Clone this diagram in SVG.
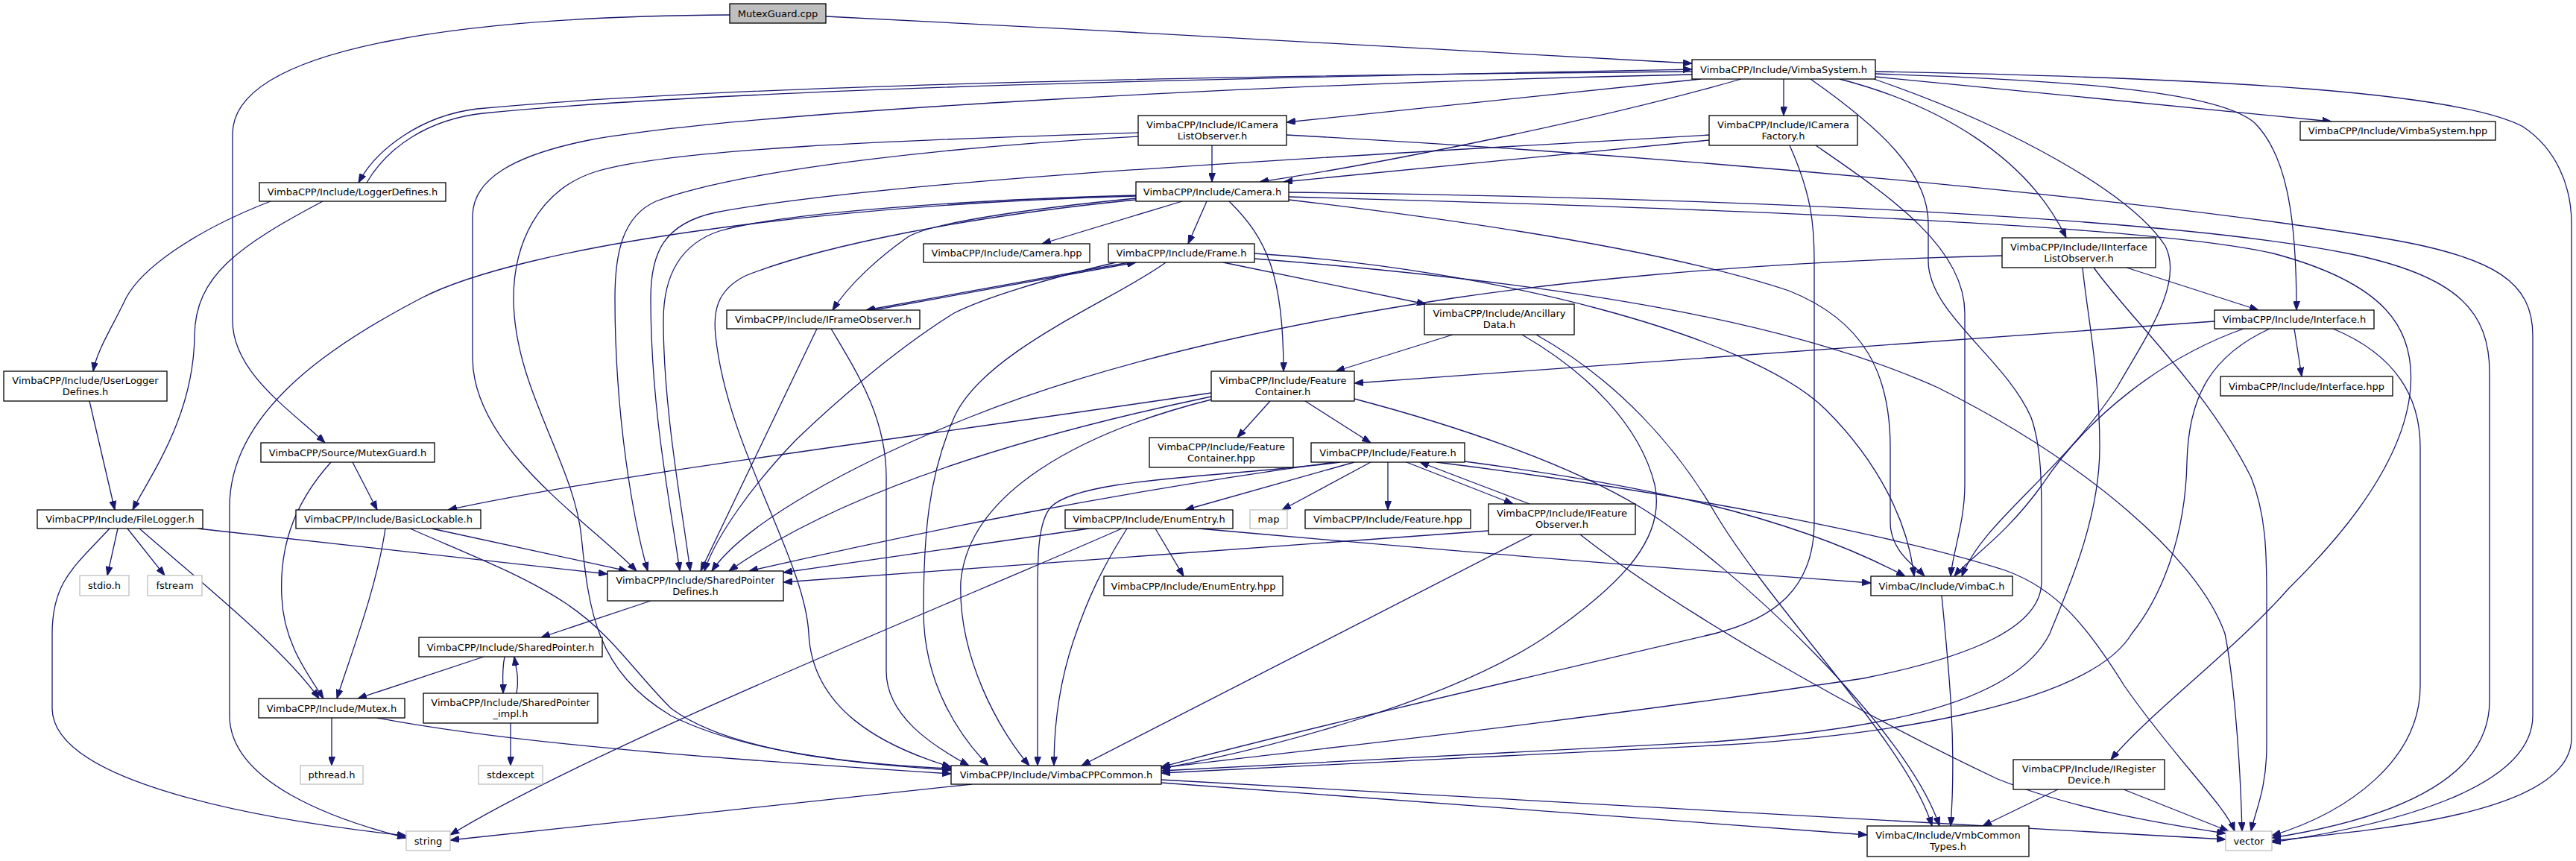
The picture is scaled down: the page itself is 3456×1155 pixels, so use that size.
<svg xmlns="http://www.w3.org/2000/svg" width="3456" height="1155" viewBox="0 0 3456 1155">
<defs>
<marker id="a" viewBox="0 0 12 9" refX="12" refY="4.5" markerWidth="12" markerHeight="9" orient="auto" markerUnits="userSpaceOnUse"><path d="M0,0 L12,4.5 L0,9 Z" fill="#191970" stroke="#191970" stroke-width="1"/></marker>
</defs>
<style>
.n rect{fill:#ffffff;stroke:#000000;stroke-width:1.3}
.g rect{fill:#ffffff;stroke:#bfbfbf;stroke-width:1.3}
.r rect{fill:#bfbfbf;stroke:#000000;stroke-width:1.3}
text{font-family:"DejaVu Sans","Liberation Sans",sans-serif;font-size:13px;text-anchor:middle;fill:#000000}
#edges path{fill:none;stroke:#191970;stroke-width:1.3;marker-end:url(#a)}
</style>
<rect x="0" y="0" width="3456" height="1155" fill="#ffffff"/>
<g id="edges">
<path d="M1108,22 C1500,40 1950,70 2270,85"/>
<path d="M979,20 C640,22 312,60 312,180 L312,430 C312,500 390,550 436,594"/>
<path d="M2270,96 C1700,101 1000,112 640,146 C565,155 505,200 481,245"/>
<path d="M492,245 C520,197 575,160 648,152 C1000,117 1700,104 2270,93"/>
<path d="M2282,106 L1726,164"/>
<path d="M2336,106 C2150,160 1850,220 1690,244"/>
<path d="M2393,106 L2393,155"/>
<path d="M2516,103 L3128,163"/>
<path d="M2468,106 C2600,140 2720,210 2772,319"/>
<path d="M2516,99 C2800,108 2980,125 3025,165 C3070,210 3081,300 3081,416"/>
<path d="M2516,96 C3000,105 3300,125 3385,170 C3430,200 3450,250 3450,300 L3450,990 C3450,1090 3200,1112 3048,1128"/>
<path d="M2270,100 C1700,112 1000,150 790,188 C690,208 634,240 634,290 L634,480 C634,600 790,700 854,766"/>
<path d="M2429,106 C2520,170 2587,230 2587,300 L2587,350 C2587,420 2690,480 2725,560 C2739,600 2739,650 2739,700 L2739,780 C2739,840 2650,880 2500,910 C2100,970 1700,1012 1558,1030"/>
<path d="M2514,106 C2700,170 2860,260 2905,330 C2930,380 2880,450 2840,520 C2760,640 2660,700 2632,773"/>
<path d="M2293,188 L1722,244"/>
<path d="M2293,181 C1800,210 1200,240 960,285 C890,300 873,340 873,400 C873,550 900,680 912,766"/>
<path d="M2401,195 C2430,260 2434,300 2434,350 L2434,700 C2434,790 2380,830 2300,850 C2000,920 1700,990 1558,1029"/>
<path d="M2436,195 C2530,260 2636,330 2636,420 L2636,650 C2636,700 2620,740 2617,773"/>
<path d="M1626,195 L1626,244"/>
<path d="M1726,181 C2300,212 2900,270 3200,320 C3350,345 3398,380 3398,450 L3398,960 C3398,1060 3200,1108 3048,1130"/>
<path d="M1527,183 C1300,195 1000,225 880,270 C835,290 825,340 825,400 C825,560 850,700 869,766"/>
<path d="M1527,178 C1200,188 900,200 800,230 C720,255 689,330 689,400 C689,520 770,620 780,720 C790,820 800,900 900,960 C1000,1010 1150,1025 1276,1033"/>
<path d="M1586,270 L1398,327"/>
<path d="M1619,270 L1594,327"/>
<path d="M1649,270 C1700,320 1722,370 1722,498"/>
<path d="M1524,266 C1380,280 1240,300 1215,320 C1180,345 1140,380 1117,416"/>
<path d="M1524,263 C1100,275 700,330 565,400 C450,460 308,550 308,680 L308,960 C308,1050 450,1100 545,1124"/>
<path d="M1524,262 C1300,268 1050,285 965,310 C905,330 890,380 890,430 C890,550 915,680 926,766"/>
<path d="M1524,268 C1300,290 1100,330 1000,370 C960,390 957,420 960,450 C975,600 1080,750 1085,850 C1090,950 1180,1000 1276,1029"/>
<path d="M1729,258 C2300,265 2900,290 3150,340 C3300,370 3340,420 3340,500 L3340,940 C3340,1050 3200,1100 3048,1124"/>
<path d="M1729,264 C2400,282 2900,305 3050,340 C3200,380 3240,440 3234,520 C3225,640 3100,760 3070,790 C3000,870 2880,960 2832,1019"/>
<path d="M1729,268 C2000,300 2250,340 2400,390 C2500,430 2536,500 2536,600 L2536,700 C2536,740 2570,760 2582,773"/>
<path d="M1515,352 L1162,416"/>
<path d="M1172,416 L1524,352"/>
<path d="M1641,352 L1913,408"/>
<path d="M1497,352 C1400,375 1320,400 1280,420 C1200,470 1120,540 1068,590 C1010,650 960,720 945,766"/>
<path d="M1564,352 C1500,400 1320,470 1280,560 C1245,640 1239,720 1239,820 C1239,920 1290,990 1326,1027"/>
<path d="M1683,340 C2000,360 2350,450 2450,550 C2520,620 2560,700 2568,773"/>
<path d="M1683,347 C2100,380 2400,430 2600,520 C2800,620 2950,750 2985,850 C2995,900 3005,1000 3008,1115"/>
<path d="M1096,441 L940,766"/>
<path d="M1115,441 C1150,500 1189,560 1189,640 L1189,900 C1189,960 1250,1000 1300,1027"/>
<path d="M1949,449 L1792,498"/>
<path d="M2042,449 C2130,500 2200,570 2220,650 C2235,720 2180,780 2080,850 C1950,940 1700,1005 1558,1031"/>
<path d="M2061,449 C2170,510 2250,600 2302,690 C2380,820 2560,1000 2592,1108"/>
<path d="M1625,527 C1200,590 800,640 601,684"/>
<path d="M1625,532 C1300,600 1100,680 978,766"/>
<path d="M1625,536 C1450,580 1300,660 1289,780 C1285,880 1340,980 1381,1027"/>
<path d="M1817,535 C1950,570 2100,620 2200,680 C2330,760 2560,980 2602,1108"/>
<path d="M1704,538 L1660,587"/>
<path d="M1751,538 L1839,594"/>
<path d="M1862,620 L1862,684"/>
<path d="M1839,620 L1720,684"/>
<path d="M1817,620 L1590,684"/>
<path d="M1887,620 L2030,676"/>
<path d="M2052,676 L1905,620"/>
<path d="M1790,620 C1500,660 1250,710 1005,766"/>
<path d="M1798,620 C1650,640 1450,640 1410,680 C1392,700 1392,750 1392,800 L1392,1027"/>
<path d="M1965,619 C2200,650 2400,690 2556,773"/>
<path d="M1927,620 C2250,660 2550,720 2690,765 C2760,790 2800,840 2850,920 C2920,1020 2985,1080 2998,1115"/>
<path d="M1997,712 L1051,781"/>
<path d="M2056,717 L1451,1027"/>
<path d="M2120,717 C2250,820 2500,960 2680,1045 C2780,1085 2900,1105 2986,1118"/>
<path d="M1550,709 L1588,773"/>
<path d="M1461,709 L1051,768"/>
<path d="M1512,709 C1480,760 1460,800 1440,860 C1420,920 1414,980 1414,1027"/>
<path d="M1505,709 C1300,800 800,1000 604,1120"/>
<path d="M1608,709 C1900,735 2200,760 2510,782"/>
<path d="M2971,431 L1817,514"/>
<path d="M3078,441 L3088,505"/>
<path d="M3010,441 C2900,480 2800,560 2740,650 C2690,720 2640,750 2622,773"/>
<path d="M3045,441 C2960,480 2936,540 2934,620 C2932,720 2900,800 2860,850 C2800,950 2500,990 2300,1000 C2000,1015 1700,1030 1558,1037"/>
<path d="M3130,441 C3200,470 3247,520 3247,600 L3247,920 C3247,1020 3150,1090 3048,1121"/>
<path d="M2853,359 L3030,416"/>
<path d="M2686,343 C2300,352 2050,385 1949,400 C1750,430 1500,480 1300,560 C1150,620 1000,700 955,766"/>
<path d="M2794,359 C2800,420 2817,500 2817,600 C2817,700 2770,800 2750,850 C2700,950 2500,980 2300,995 C2000,1010 1700,1025 1558,1034"/>
<path d="M2809,359 C2860,430 2960,520 3020,640 C3040,690 3041,740 3041,800 L3041,1000 C3041,1060 3025,1090 3020,1115"/>
<path d="M363,270 C260,310 190,360 169,400 C150,440 130,470 125,498"/>
<path d="M433,270 C320,330 262,370 261,450 C260,560 200,640 178,684"/>
<path d="M120,538 L154,684"/>
<path d="M265,709 L815,770"/>
<path d="M158,709 L144,772"/>
<path d="M171,709 L221,772"/>
<path d="M187,709 C280,790 380,870 428,937"/>
<path d="M147,709 C100,760 70,780 70,850 L70,950 C70,1050 350,1100 545,1121"/>
<path d="M473,620 L506,684"/>
<path d="M444,620 C390,680 375,740 378,800 C380,860 410,900 434,937"/>
<path d="M579,709 L842,766"/>
<path d="M517,709 C505,790 470,880 452,937"/>
<path d="M550,709 C620,740 700,770 760,810 C820,850 850,900 900,950 C980,1010 1150,1025 1276,1031"/>
<path d="M873,806 L726,855"/>
<path d="M649,881 L480,937"/>
<path d="M677,881 C673,900 675,915 675,930"/>
<path d="M693,930 C697,910 692,895 690,881"/>
<path d="M685,970 L685,1027"/>
<path d="M445,963 L445,1027"/>
<path d="M506,963 C700,1000 1000,1020 1276,1038"/>
<path d="M1304,1052 L604,1127"/>
<path d="M1558,1050 L2505,1120"/>
<path d="M1558,1046 L2986,1126"/>
<path d="M2605,799 C2615,900 2625,1000 2617,1108"/>
<path d="M2761,1059 L2660,1108"/>
<path d="M2849,1059 L2990,1115"/>
</g>
<g id="n_mutexguard_cpp" class="r"><rect x="979" y="5" width="129" height="26"/><text x="1043.5" y="22.5">MutexGuard.cpp</text></g>
<g id="n_vimbasystem_h" class="n"><rect x="2270" y="80" width="246" height="26"/><text x="2393" y="97.5">VimbaCPP/Include/VimbaSystem.h</text></g>
<g id="n_loggerdefines_h" class="n"><rect x="348" y="245" width="250" height="25"/><text x="473" y="262">VimbaCPP/Include/LoggerDefines.h</text></g>
<g id="n_icameralistobserver_h" class="n"><rect x="1527" y="155" width="199" height="40"/><text x="1626.5" y="172">VimbaCPP/Include/ICamera</text><text x="1626.5" y="187">ListObserver.h</text></g>
<g id="n_icamerafactory_h" class="n"><rect x="2293" y="155" width="199" height="40"/><text x="2392.5" y="172">VimbaCPP/Include/ICamera</text><text x="2392.5" y="187">Factory.h</text></g>
<g id="n_vimbasystem_hpp" class="n"><rect x="3086" y="163" width="262" height="25"/><text x="3217" y="180">VimbaCPP/Include/VimbaSystem.hpp</text></g>
<g id="n_camera_h" class="n"><rect x="1524" y="244" width="205" height="26"/><text x="1626.5" y="261.5">VimbaCPP/Include/Camera.h</text></g>
<g id="n_camera_hpp" class="n"><rect x="1239" y="327" width="223" height="25"/><text x="1350.5" y="344">VimbaCPP/Include/Camera.hpp</text></g>
<g id="n_frame_h" class="n"><rect x="1487" y="327" width="196" height="25"/><text x="1585" y="344">VimbaCPP/Include/Frame.h</text></g>
<g id="n_iinterfacelistobserver_h" class="n"><rect x="2686" y="319" width="206" height="40"/><text x="2789" y="336">VimbaCPP/Include/IInterface</text><text x="2789" y="351">ListObserver.h</text></g>
<g id="n_iframeobserver_h" class="n"><rect x="975" y="416" width="259" height="25"/><text x="1104.5" y="433">VimbaCPP/Include/IFrameObserver.h</text></g>
<g id="n_ancillarydata_h" class="n"><rect x="1911" y="408" width="201" height="41"/><text x="2011.5" y="425">VimbaCPP/Include/Ancillary</text><text x="2011.5" y="440">Data.h</text></g>
<g id="n_interface_h" class="n"><rect x="2971" y="416" width="214" height="25"/><text x="3078" y="433">VimbaCPP/Include/Interface.h</text></g>
<g id="n_userloggerdefines_h" class="n"><rect x="5" y="498" width="219" height="40"/><text x="114.5" y="515">VimbaCPP/Include/UserLogger</text><text x="114.5" y="530">Defines.h</text></g>
<g id="n_featurecontainer_h" class="n"><rect x="1625" y="498" width="192" height="40"/><text x="1721" y="515">VimbaCPP/Include/Feature</text><text x="1721" y="530">Container.h</text></g>
<g id="n_interface_hpp" class="n"><rect x="2979" y="505" width="231" height="26"/><text x="3094.5" y="522.5">VimbaCPP/Include/Interface.hpp</text></g>
<g id="n_featurecontainer_hpp" class="n"><rect x="1542" y="587" width="193" height="40"/><text x="1638.5" y="604">VimbaCPP/Include/Feature</text><text x="1638.5" y="619">Container.hpp</text></g>
<g id="n_source_mutexguard_h" class="n"><rect x="350" y="594" width="233" height="26"/><text x="466.5" y="611.5">VimbaCPP/Source/MutexGuard.h</text></g>
<g id="n_feature_h" class="n"><rect x="1759" y="594" width="206" height="26"/><text x="1862" y="611.5">VimbaCPP/Include/Feature.h</text></g>
<g id="n_filelogger_h" class="n"><rect x="50" y="684" width="222" height="25"/><text x="161" y="701">VimbaCPP/Include/FileLogger.h</text></g>
<g id="n_basiclockable_h" class="n"><rect x="397" y="684" width="248" height="25"/><text x="521" y="701">VimbaCPP/Include/BasicLockable.h</text></g>
<g id="n_stdio_h" class="g"><rect x="107" y="772" width="66" height="27"/><text x="140" y="790">stdio.h</text></g>
<g id="n_fstream" class="g"><rect x="198" y="772" width="73" height="27"/><text x="234.5" y="790">fstream</text></g>
<g id="n_enumentry_h" class="n"><rect x="1429" y="684" width="225" height="25"/><text x="1541.5" y="701">VimbaCPP/Include/EnumEntry.h</text></g>
<g id="n_map" class="g"><rect x="1677" y="684" width="50" height="25"/><text x="1702" y="701">map</text></g>
<g id="n_feature_hpp" class="n"><rect x="1751" y="684" width="222" height="25"/><text x="1862" y="701">VimbaCPP/Include/Feature.hpp</text></g>
<g id="n_ifeatureobserver_h" class="n"><rect x="1997" y="676" width="197" height="41"/><text x="2095.5" y="693">VimbaCPP/Include/IFeature</text><text x="2095.5" y="708">Observer.h</text></g>
<g id="n_sharedpointerdefines_h" class="n"><rect x="815" y="766" width="236" height="40"/><text x="933" y="783">VimbaCPP/Include/SharedPointer</text><text x="933" y="798">Defines.h</text></g>
<g id="n_enumentry_hpp" class="n"><rect x="1481" y="773" width="240" height="26"/><text x="1601" y="790.5">VimbaCPP/Include/EnumEntry.hpp</text></g>
<g id="n_vimbac_h" class="n"><rect x="2510" y="773" width="190" height="26"/><text x="2605" y="790.5">VimbaC/Include/VimbaC.h</text></g>
<g id="n_sharedpointer_h" class="n"><rect x="562" y="855" width="246" height="26"/><text x="685" y="872.5">VimbaCPP/Include/SharedPointer.h</text></g>
<g id="n_mutex_h" class="n"><rect x="347" y="937" width="196" height="26"/><text x="445" y="954.5">VimbaCPP/Include/Mutex.h</text></g>
<g id="n_sharedpointer_impl_h" class="n"><rect x="568" y="930" width="234" height="40"/><text x="685" y="947">VimbaCPP/Include/SharedPointer</text><text x="685" y="962">_impl.h</text></g>
<g id="n_pthread_h" class="g"><rect x="403" y="1027" width="84" height="25"/><text x="445" y="1044">pthread.h</text></g>
<g id="n_stdexcept" class="g"><rect x="642" y="1027" width="86" height="25"/><text x="685" y="1044">stdexcept</text></g>
<g id="n_vimbacppcommon_h" class="n"><rect x="1276" y="1027" width="282" height="25"/><text x="1417" y="1044">VimbaCPP/Include/VimbaCPPCommon.h</text></g>
<g id="n_iregisterdevice_h" class="n"><rect x="2701" y="1019" width="203" height="40"/><text x="2802.5" y="1036">VimbaCPP/Include/IRegister</text><text x="2802.5" y="1051">Device.h</text></g>
<g id="n_string" class="g"><rect x="545" y="1115" width="59" height="26"/><text x="574.5" y="1132.5">string</text></g>
<g id="n_vmbcommontypes_h" class="n"><rect x="2505" y="1108" width="217" height="41"/><text x="2613.5" y="1125">VimbaC/Include/VmbCommon</text><text x="2613.5" y="1140">Types.h</text></g>
<g id="n_vector" class="g"><rect x="2986" y="1115" width="62" height="26"/><text x="3017" y="1132.5">vector</text></g>
</svg>
